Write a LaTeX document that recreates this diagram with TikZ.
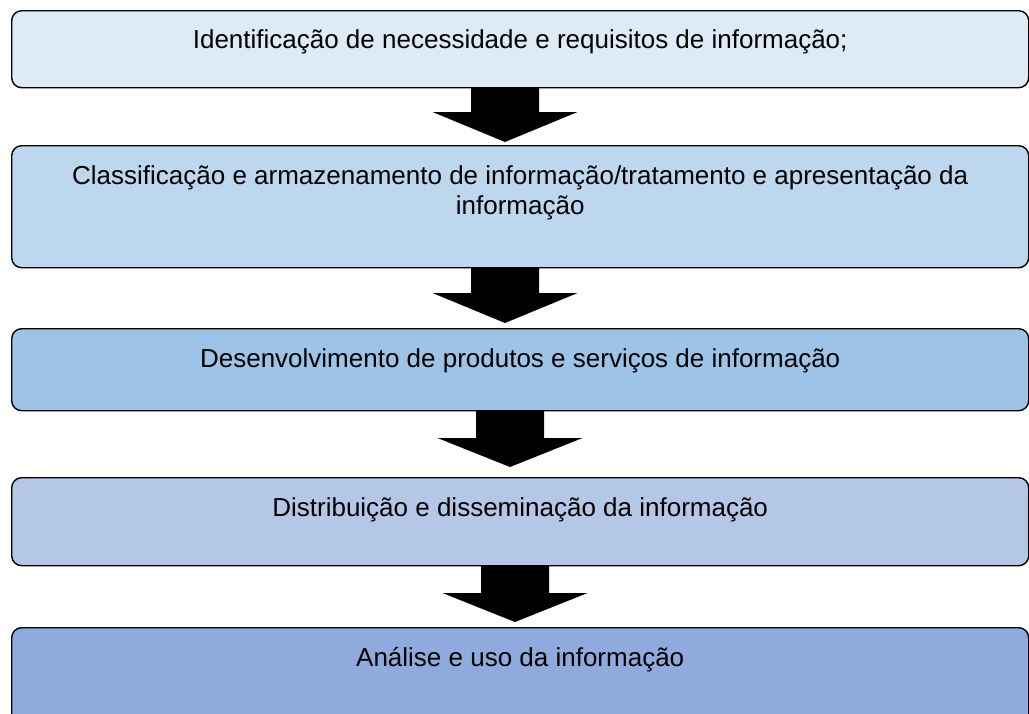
\documentclass[tikz,border=0pt]{standalone}
\usepackage{fontspec}
\setmainfont{Liberation Sans}
\definecolor{cA}{HTML}{DEEAF6}
\definecolor{cB}{HTML}{BDD7EE}
\definecolor{cC}{HTML}{9DC3E6}
\definecolor{cD}{HTML}{B4C7E7}
\definecolor{cE}{HTML}{8FAADC}
\newcommand\blkarrow[3]{\fill[black] (#1) ++(-34,0) -- ++(68,0) -- ++(0,#2) -- ++(38.5,0) -- ++(-72.5,#3) -- ++(-72.5,-#3) -- ++(38.5,0) -- cycle;}
\begin{document}
\begin{tikzpicture}[x=1pt,y=-1pt,
  stagebox/.style={draw=black, line width=1.4pt, rounded corners=10pt, rectangle, inner sep=0pt, anchor=north west, minimum width=1017pt},
  lbl/.style={anchor=base, inner sep=0pt, font=\fontsize{26}{30}\selectfont}]
\useasboundingbox (0,0) rectangle (1029,713);
\clip (0,0) rectangle (1029,713);
% arrow start coordinates
\coordinate (s1) at (505,87);
\coordinate (s2) at (505,267);
\coordinate (s3) at (510,410);
\coordinate (s4) at (515,565);
\blkarrow{s1}{25}{30}
\blkarrow{s2}{26}{30}
\blkarrow{s3}{28}{29}
\blkarrow{s4}{28}{29}
% boxes
\node[stagebox, fill=cA, minimum height=77pt] (b1) at (11,10) {};
\node[stagebox, fill=cB, minimum height=122pt] (b2) at (11,145) {};
\node[stagebox, fill=cC, minimum height=82pt] (b3) at (11,328) {};
\node[stagebox, fill=cD, minimum height=88pt] (b4) at (11,477) {};
\node[stagebox, fill=cE, minimum height=100pt] (b5) at (11,627) {};
% texts
\node[lbl] (t1) at ([yshift=-38pt]b1.north) {Identificação de necessidade e requisitos de informação;};
\node[lbl] (t2a) at ([yshift=-39pt]b2.north) {Classificação e armazenamento de informação/tratamento e apresentação da};
\node[lbl] (t2b) at ([yshift=-69pt]b2.north) {informação};
\node[lbl] (t3) at ([yshift=-39pt]b3.north) {Desenvolvimento de produtos e serviços de informação};
\node[lbl] (t4) at ([yshift=-39pt]b4.north) {Distribuição e disseminação da informação};
\node[lbl] (t5) at ([yshift=-39pt]b5.north) {Análise e uso da informação};
\end{tikzpicture}
\end{document}
